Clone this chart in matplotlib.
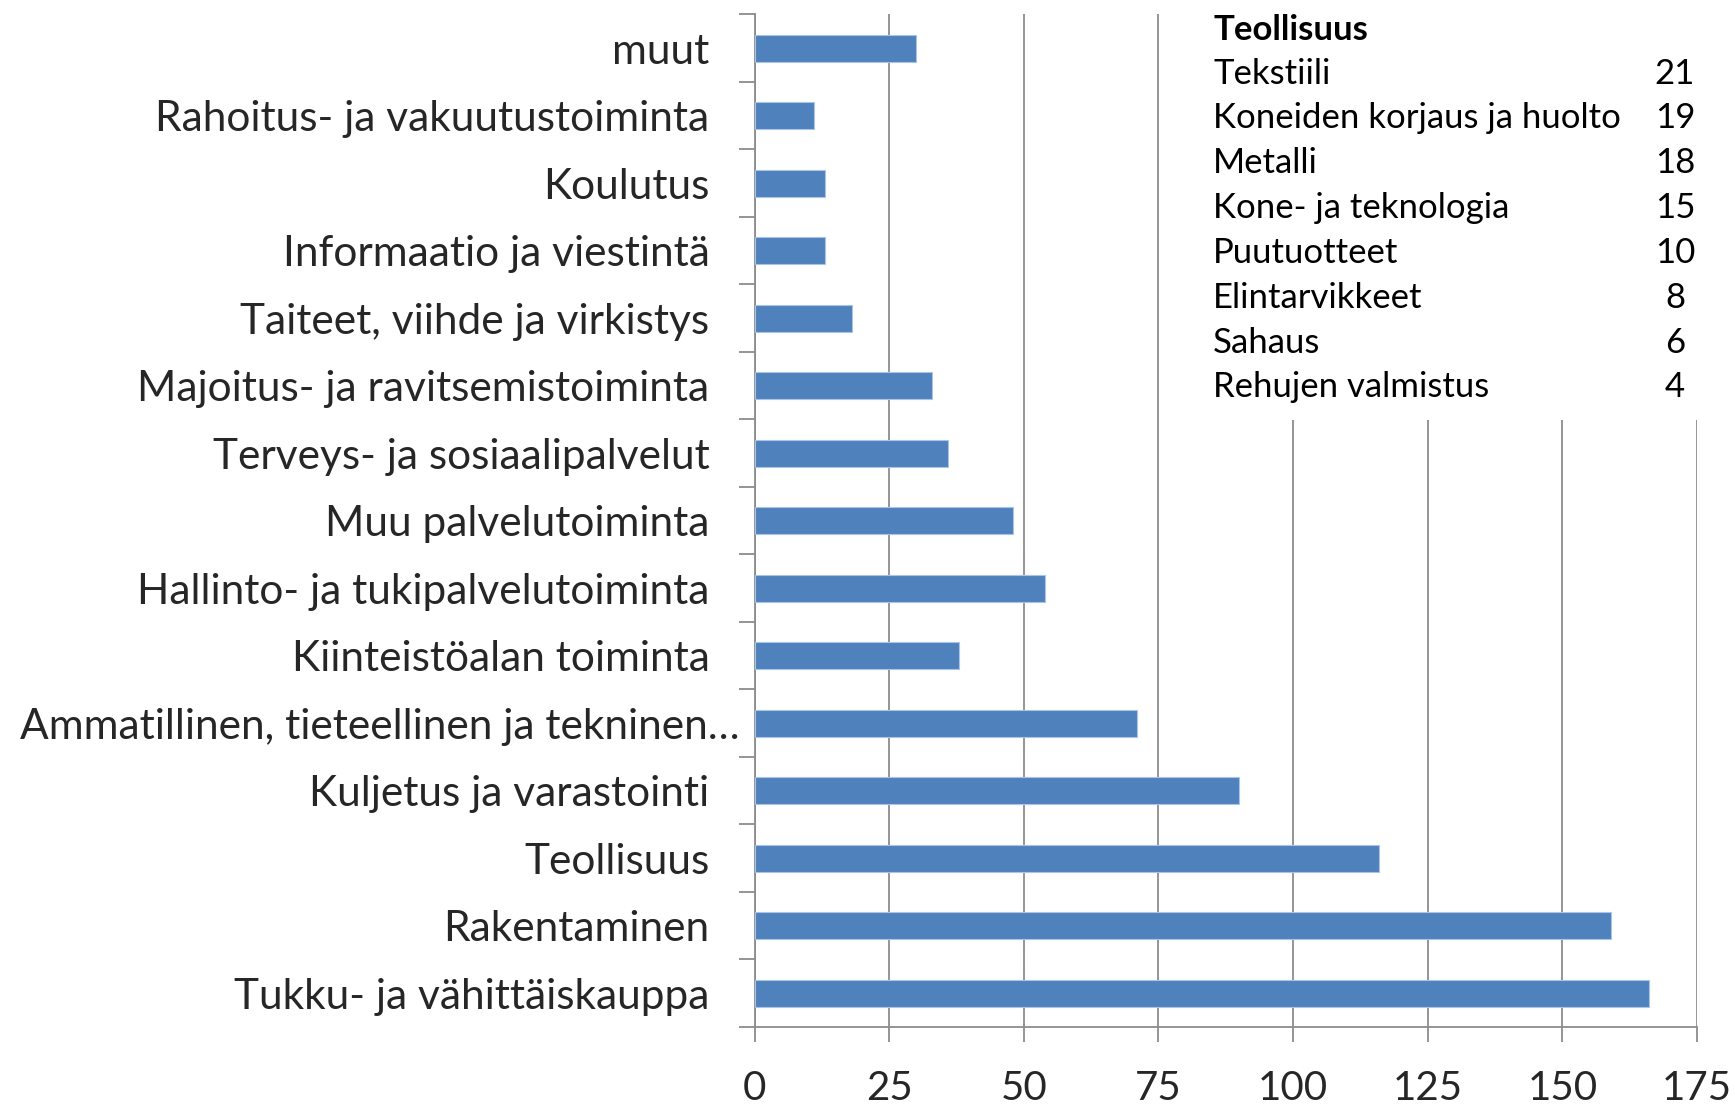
import numpy as np
import matplotlib
matplotlib.use("Agg")
import matplotlib.pyplot as plt
from matplotlib.patches import Rectangle
from matplotlib.transforms import ScaledTranslation

plt.rcParams['font.family'] = ['Lato', 'DejaVu Sans']

# toimialat alhaalta ylös
categories = [
    "Tukku- ja vähittäiskauppa",
    "Rakentaminen",
    "Teollisuus",
    "Kuljetus ja varastointi",
    "Ammatillinen, tieteellinen ja tekninen…",
    "Kiinteistöalan toiminta",
    "Hallinto- ja tukipalvelutoiminta",
    "Muu palvelutoiminta",
    "Terveys- ja sosiaalipalvelut",
    "Majoitus- ja ravitsemistoiminta",
    "Taiteet, viihde ja virkistys",
    "Informaatio ja viestintä",
    "Koulutus",
    "Rahoitus- ja vakuutustoiminta",
    "muut",
]
values = [166, 159, 116, 90, 71, 38, 54, 48, 36, 33, 18, 13, 13, 11, 30]

xticks = [0, 25, 50, 75, 100, 125, 150, 175]

# teollisuuden erittely
sub_title = "Teollisuus"
sub_names = ["Tekstiili", "Koneiden korjaus ja huolto", "Metalli", "Kone- ja teknologia",
             "Puutuotteet", "Elintarvikkeet", "Sahaus", "Rehujen valmistus"]
sub_values = [21, 19, 18, 15, 10, 8, 6, 4]

W, H = 1735, 1104
fig = plt.figure(figsize=(W / 100, H / 100), dpi=100)
ax = fig.add_axes([754.6 / W, 1 - 1027 / H, (1697 - 754.6) / W, (1027 - 14.4) / H])

grey = "#8c8c8c"
y = np.arange(len(categories))
ax.barh(y, values, height=0.4, color="#4f81bd", edgecolor="#a9c4e6", linewidth=0.8, zorder=3)

ax.set_xlim(0, 175)
ax.set_ylim(-0.5, len(categories) - 0.5)
ax.set_xticks(xticks)
ax.set_xticklabels([str(t) for t in xticks], fontsize=29, color="#262626")
ax.set_yticks(np.arange(-0.5, len(categories), 1.0))
ax.set_yticklabels([])
ax.tick_params(axis="x", length=11, width=1.3, color=grey, pad=20)
ax.tick_params(axis="y", length=11.5, width=1.3, color=grey)
ax.xaxis.grid(True, color=grey, linewidth=1.3, zorder=0)
ax.set_axisbelow(True)
for side in ["top", "right"]:
    ax.spines[side].set_visible(False)
for side in ["left", "bottom"]:
    ax.spines[side].set_color(grey)
    ax.spines[side].set_linewidth(1.3)

# kategoriat käsin, pitkä nimi menee pidemmälle kuten alkuperäisessä
for i, name in enumerate(categories):
    dx = -45 if not name.endswith("…") else -15
    tr = ax.get_yaxis_transform() + ScaledTranslation(dx / 100, -3.5 / 100, fig.dpi_scale_trans)
    ax.text(0, i, name, transform=tr, ha="right", va="center", fontsize=30.5,
            color="#262626", clip_on=False)

# valkoinen laatikko erittelyn alle
fig.add_artist(Rectangle((1200 / W, 1 - 420 / H), 1 - 1200 / W, 420 / H,
                         transform=fig.transFigure, facecolor="white", edgecolor="none", zorder=5))
fig.text(1213 / W, 1 - 29.5 / H, sub_title, fontsize=25, fontweight="bold",
         va="center", ha="left", zorder=6)
for k, (n, v) in enumerate(zip(sub_names, sub_values)):
    yy = 1 - (73.5 + 44.85 * k) / H
    fig.text(1213 / W, yy, n, fontsize=25, va="center", ha="left", zorder=6)
    fig.text(1675 / W, yy, str(v), fontsize=25, va="center", ha="center", zorder=6)

fig.savefig("out.png", dpi=100)
